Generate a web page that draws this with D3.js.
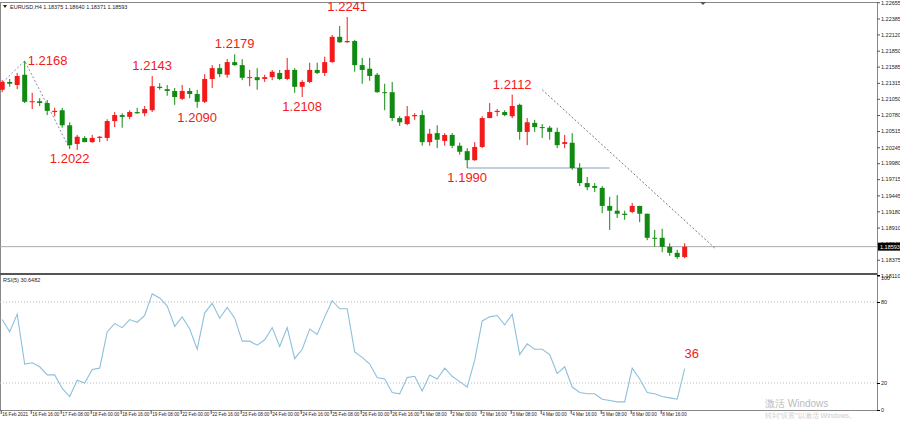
<!DOCTYPE html>
<html><head><meta charset="utf-8">
<script src="https://cdn.jsdelivr.net/npm/d3@7"></script>
<style>body{margin:0;background:#fff}svg{display:block}text{font-family:"Liberation Sans",Arial,sans-serif}</style>
</head><body><svg id="c" width="900" height="421"></svg>
<script>
// [open, high, low, close]
const candles = [
[1.2120,1.2136,1.2116,1.2133],[1.2133,1.2138,1.2125,1.2130],[1.2128,1.2148,1.2121,1.2143],[1.2145,1.2168,1.2098,1.2100],
[1.2100,1.2115,1.2088,1.2101],[1.2101,1.2106,1.2093,1.2098],[1.2098,1.2103,1.2078,1.2085],[1.2083,1.2090,1.2076,1.2085],
[1.2086,1.2090,1.2057,1.2061],[1.2061,1.2066,1.2022,1.2028],[1.2030,1.2045,1.2020,1.2042],[1.2040,1.2043,1.2033,1.2033],
[1.2033,1.2045,1.2032,1.2040],[1.2040,1.2043,1.2033,1.2042],[1.2040,1.2071,1.2035,1.2068],[1.2068,1.2083,1.2058,1.2078],
[1.2078,1.2081,1.2057,1.2075],[1.2075,1.2086,1.2071,1.2083],[1.2083,1.2090,1.2080,1.2081],[1.2081,1.2093,1.2076,1.2088],
[1.2086,1.2143,1.2083,1.2126],[1.2125,1.2131,1.2120,1.2123],[1.2121,1.2128,1.2110,1.2118],[1.2118,1.2123,1.2095,1.2108],
[1.2105,1.2128,1.2103,1.2118],[1.2118,1.2123,1.2106,1.2113],[1.2113,1.2120,1.2090,1.2100],[1.2100,1.2146,1.2098,1.2138],
[1.2138,1.2161,1.2123,1.2156],[1.2156,1.2163,1.2141,1.2146],[1.2145,1.2171,1.2140,1.2166],[1.2166,1.2179,1.2160,1.2161],
[1.2161,1.2171,1.2136,1.2140],[1.2140,1.2153,1.2126,1.2141],[1.2141,1.2156,1.2120,1.2136],[1.2138,1.2145,1.2133,1.2141],
[1.2141,1.2153,1.2136,1.2150],[1.2148,1.2153,1.2136,1.2138],[1.2138,1.2173,1.2136,1.2153],[1.2153,1.2156,1.2115,1.2125],
[1.2125,1.2136,1.2108,1.2133],[1.2133,1.2165,1.2131,1.2153],[1.2153,1.2165,1.2146,1.2148],[1.2148,1.2175,1.2143,1.2166],
[1.2166,1.2211,1.2165,1.2208],[1.2208,1.2226,1.2198,1.2199],[1.2199,1.2241,1.2198,1.2201],[1.2201,1.2203,1.2150,1.2161],
[1.2161,1.2173,1.2130,1.2153],[1.2155,1.2173,1.2135,1.2143],[1.2145,1.2148,1.2115,1.2116],[1.2116,1.2130,1.2086,1.2115],
[1.2116,1.2133,1.2068,1.2073],[1.2073,1.2076,1.2060,1.2066],[1.2063,1.2093,1.2061,1.2076],[1.2076,1.2081,1.2070,1.2078],
[1.2078,1.2086,1.2027,1.2033],[1.2033,1.2055,1.2027,1.2047],[1.2048,1.2061,1.2023,1.2037],[1.2035,1.2048,1.2027,1.2045],
[1.2045,1.2048,1.2023,1.2027],[1.2027,1.2032,1.2012,1.2017],[1.2018,1.2023,1.1990,1.2003],[1.2003,1.2033,1.2002,1.2025],
[1.2025,1.2076,1.2023,1.2073],[1.2073,1.2098,1.2073,1.2083],[1.2083,1.2088,1.2076,1.2085],[1.2083,1.2086,1.2076,1.2078],
[1.2076,1.2112,1.2073,1.2093],[1.2095,1.2097,1.2037,1.2050],[1.2050,1.2073,1.2028,1.2066],[1.2065,1.2070,1.2050,1.2058],
[1.2058,1.2063,1.2040,1.2057],[1.2057,1.2060,1.2037,1.2050],[1.2050,1.2057,1.2023,1.2028],[1.2030,1.2045,1.2023,1.2033],
[1.2032,1.2048,1.1987,1.1990],[1.1990,1.1998,1.1960,1.1965],[1.1965,1.1975,1.1953,1.1958],[1.1960,1.1965,1.1950,1.1957],
[1.1957,1.1960,1.1915,1.1927],[1.1927,1.1942,1.1887,1.1919],[1.1919,1.1945,1.1907,1.1914],[1.1914,1.1919,1.1904,1.1912],
[1.1917,1.1932,1.1915,1.1927],[1.1927,1.1927,1.1900,1.1914],[1.1914,1.1914,1.1870,1.1874],[1.1874,1.1887,1.1859,1.1873],
[1.1874,1.1889,1.1850,1.1859],[1.1859,1.1865,1.1844,1.1849],[1.1849,1.1854,1.1839,1.1842],[1.1842,1.1865,1.1840,1.1859]];
const rsi = [67,58,71,34,35,32,26,26,16,10,22,20,30,31,58,64,61,67,65,70,86,83,77,62,69,60,45,72,79,68,76,68,51,51,48,52,61,47,61,38,45,60,56,69,81,75,75,43,39,34,24,23,13,12,24,25,14,26,23,31,25,21,17,37,66,69,70,63,71,41,49,45,45,41,27,32,17,13,12,12,8,7,6,6,31,23,13,12,10,9,8,30.6];
const xLabels = ["16 Feb 2021","16 Feb 16:00","17 Feb 08:00","18 Feb 00:00","18 Feb 16:00","19 Feb 08:00","22 Feb 00:00","22 Feb 16:00","23 Feb 08:00","24 Feb 00:00","24 Feb 16:00","25 Feb 08:00","26 Feb 00:00","26 Feb 16:00","1 Mar 08:00","2 Mar 00:00","2 Mar 16:00","3 Mar 08:00","4 Mar 00:00","4 Mar 16:00","5 Mar 08:00","8 Mar 00:00","8 Mar 16:00"];
const priceTicks = [1.22655,1.22385,1.22120,1.21850,1.21585,1.21315,1.21050,1.20780,1.20515,1.20245,1.19980,1.19715,1.19445,1.19180,1.18910,1.18640,1.18375,1.18110];
const rsiTicks = [100,80,20,0];
const annotations = [
 {i:46,p:1.2241,t:"1.2241",pos:"above"},{i:3,p:1.2168,t:"1.2168",pos:"right"},{i:20,p:1.2143,t:"1.2143",pos:"above"},
 {i:31,p:1.2179,t:"1.2179",pos:"above"},{i:9,p:1.2022,t:"1.2022",pos:"below"},{i:26,p:1.2090,t:"1.2090",pos:"below"},
 {i:40,p:1.2108,t:"1.2108",pos:"below"},{i:68,p:1.2112,t:"1.2112",pos:"above"},{i:62,p:1.1990,t:"1.1990",pos:"below"}];
const lastPrice = 1.18593;

const svg = d3.select("#c");
const red="#f21a1a", green="#118a11";
const x = d3.scaleLinear().domain([0,91]).range([2.2,684.7]);
const y = d3.scaleLinear().domain([1.18155,1.22659]).range([273,2]);
const yr = d3.scaleLinear().domain([0,100]).range([410,275]);
const right=877;

svg.append("rect").attr("x",0.5).attr("y",2.5).attr("width",right).attr("height",408).attr("fill","none").attr("stroke","#888");
svg.append("line").attr("x1",0).attr("x2",right).attr("y1",274).attr("y2",274).attr("stroke","#555").attr("stroke-width",2);

const pa = svg.append("g").attr("transform",`translate(${right},0)`);
pa.call(d3.axisRight(y).tickValues(priceTicks).tickSize(3).tickFormat(d3.format(".5f")));
pa.select(".domain").remove();
pa.selectAll("text").attr("font-size",5.5).attr("fill","#222").attr("x",4);
pa.selectAll("line").attr("stroke","#555");
const ra = svg.append("g").attr("transform",`translate(${right},0)`);
ra.call(d3.axisRight(yr).tickValues(rsiTicks).tickSize(3));
ra.select(".domain").remove();
ra.selectAll("text").attr("font-size",5.5).attr("fill","#222").attr("x",4).attr("dy",(d)=>d===100?"0.9em":"0.32em");

svg.append("line").attr("x1",0).attr("x2",right).attr("y1",y(lastPrice)).attr("y2",y(lastPrice)).attr("stroke","#aaa");
svg.append("rect").attr("x",right+1).attr("y",y(lastPrice)-4).attr("width",22).attr("height",8).attr("fill","#000");
svg.append("text").attr("x",right+3).attr("y",y(lastPrice)+2.5).attr("font-size",5.5).attr("fill","#fff").text(lastPrice.toFixed(5));

svg.append("line").attr("x1",x(62)).attr("x2",x(81)).attr("y1",y(1.1990)).attr("y2",y(1.1990)).attr("stroke","#aebfd6").attr("stroke-width",1.5);
svg.append("path").attr("d",d3.line()([[0,y(1.2128)],[x(3),y(1.2168)],[x(9),y(1.2022)]])).attr("fill","none").attr("stroke","#8a8ab0").attr("stroke-dasharray","2,2");
svg.append("line").attr("x1",x(72)).attr("y1",y(1.2120)).attr("x2",x(95)).attr("y2",y(1.1857)).attr("stroke","#777").attr("stroke-dasharray","2,2");

const g = svg.append("g");
candles.forEach((c,i)=>{
  const [o,h,l,cl]=c; const col = cl>=o?red:green; const cx=x(i);
  g.append("line").attr("x1",cx).attr("x2",cx).attr("y1",y(h)).attr("y2",y(l)).attr("stroke",col);
  const top=y(Math.max(o,cl)), bot=y(Math.min(o,cl));
  g.append("rect").attr("x",cx-2.5).attr("y",top).attr("width",5).attr("height",Math.max(1,bot-top)).attr("fill",col);
});

annotations.forEach(a=>{
  let tx=x(a.i), ty=y(a.p), anchor="middle";
  if(a.pos==="above") ty-=6; else if(a.pos==="below") ty+=14; else {tx+=3; ty+=4; anchor="start";}
  svg.append("text").attr("x",tx).attr("y",ty).attr("text-anchor",anchor).attr("font-size",13).attr("fill",red).text(a.t);
});

[80,20].forEach(v=>svg.append("line").attr("x1",0).attr("x2",right).attr("y1",yr(v)).attr("y2",yr(v)).attr("stroke","#bbb").attr("stroke-dasharray","1,2"));
svg.append("path").attr("d",d3.line().x((d,i)=>x(i)).y(d=>yr(d))(rsi)).attr("fill","none").attr("stroke","#8dc0dc").attr("stroke-width",1.1);
svg.append("text").attr("x",x(91)+7).attr("y",yr(rsi[91])-11).attr("text-anchor","middle").attr("font-size",13).attr("fill",red).text("36");

svg.append("text").attr("x",10).attr("y",9).attr("font-size",5.5).attr("fill","#222").text("EURUSD,H4  1.18375 1.18640 1.18371 1.18593");
svg.append("path").attr("d","M3,5 L7,5 L5,8 Z").attr("fill","#222");
svg.append("text").attr("x",3).attr("y",282).attr("font-size",5.5).attr("fill","#222").text("RSI(5) 30.6482");
svg.append("path").attr("d","M700,2 L706,2 L703,5 Z").attr("fill","#555");

xLabels.forEach((t,k)=>{
  const xi = x(k*4);
  svg.append("line").attr("x1",xi-1).attr("x2",xi-1).attr("y1",410).attr("y2",414).attr("stroke","#555");
  svg.append("text").attr("x",xi).attr("y",416).attr("font-size",4.6).attr("fill","#222").text(t);
});

svg.append("text").attr("x",765).attr("y",407).attr("font-size",10).attr("fill","#bbb").attr("font-family","Noto Sans CJK SC").text("激活 Windows");
svg.append("text").attr("x",765).attr("y",418).attr("font-size",7).attr("fill","#ccc").attr("font-family","Noto Sans CJK SC").text("转到“设置”以激活 Windows。");
</script></body></html>
